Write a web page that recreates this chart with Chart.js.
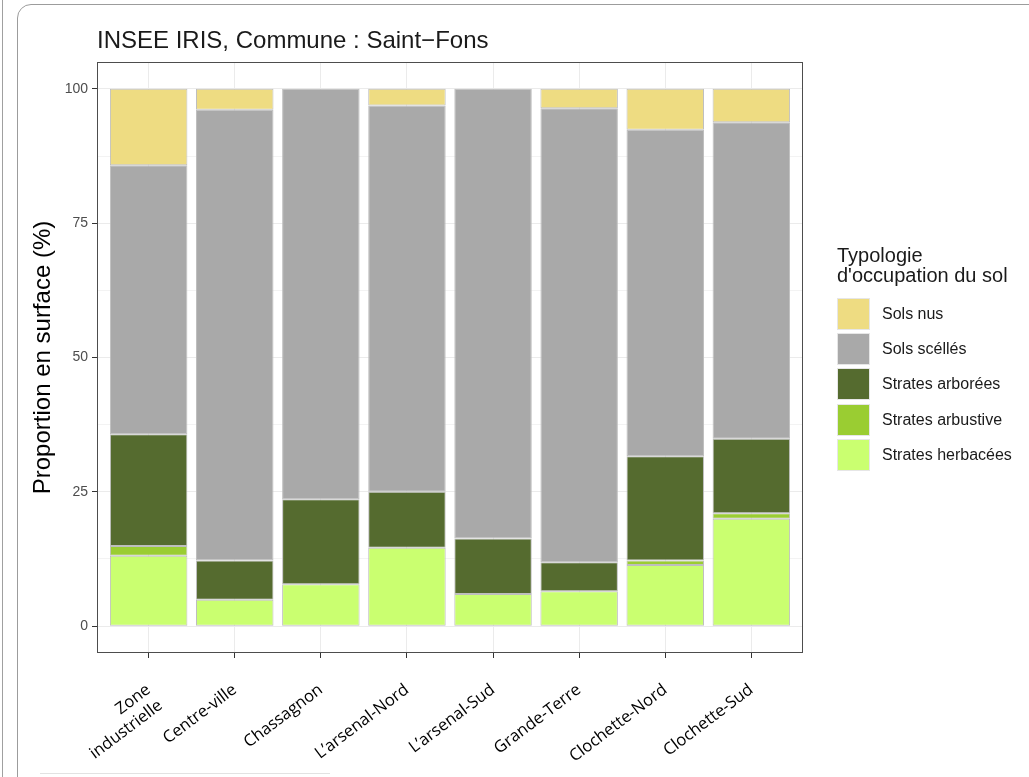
<!DOCTYPE html>
<html lang="fr">
<head>
<meta charset="utf-8">
<title>INSEE IRIS, Commune : Saint-Fons</title>
<script src="https://cdn.jsdelivr.net/npm/chart.js@4.4.1/dist/chart.umd.min.js"></script>
<style>
html, body { margin: 0; padding: 0; background: #fff; }
body { width: 1029px; height: 777px; position: relative; overflow: hidden; font-family: "Liberation Sans", Arial, sans-serif; }
#edge { position: absolute; left: 2px; top: 0; height: 777px; border-left: 1px solid #a0a0a0; }
#card { position: absolute; left: 17px; top: 4px; width: 1100px; height: 900px; border: 1px solid #9c9c9c; border-radius: 14px; }
#foot { position: absolute; left: 40px; top: 773px; width: 290px; border-top: 1px solid #e2e2e2; }
#title { position: absolute; left: 97px; top: 26px; font-size: 24px; line-height: 28px; color: #1a1a1a; white-space: nowrap; }
#chart { position: absolute; left: 0; top: 0; }
#legend { position: absolute; left: 837px; top: 245px; color: #1a1a1a; }
#legend .lt { font-size: 20px; line-height: 20px; margin-bottom: 11px; }
#legend .row { display: flex; align-items: center; height: 35.4px; }
#legend .key { width: 33px; height: 32px; border: 1px solid #e6e6e6; box-sizing: border-box; margin-right: 12px; }
#legend .lab { font-size: 16px; }
</style>
</head>
<body>
<div id="edge"></div>
<div id="card"></div>
<div id="foot"></div>
<canvas id="chart" width="1029" height="777"></canvas>
<div id="title">INSEE IRIS, Commune : Saint−Fons</div>
<div id="legend"></div>
<script>
// IRIS of Saint-Fons, left to right
var categories = [['Zone', 'industrielle'], 'Centre-ville', 'Chassagnon', 'L’arsenal-Nord',
    'L’arsenal-Sud', 'Grande-Terre', 'Clochette-Nord', 'Clochette-Sud'];

// share of surface (%) per land cover type
var herbacees = [13.1, 4.9, 7.8, 14.6, 6.0, 6.5, 11.4, 20.0];
var arbustive = [1.8, 0, 0, 0, 0, 0, 0.8, 1.0];
var arborees  = [20.8, 7.3, 15.8, 10.4, 10.3, 5.4, 19.4, 13.9];
var scelles   = [50.1, 83.9, 76.4, 71.9, 83.7, 84.5, 60.8, 58.9];
var nus       = [14.2, 3.9, 0, 3.1, 0, 3.6, 7.6, 6.2];

var yTicks = [0, 25, 50, 75, 100];
var yMinor = [12.5, 37.5, 62.5, 87.5];

var series = [
    { label: 'Strates herbacées', values: herbacees, color: '#CAFF70' },
    { label: 'Strates arbustive', values: arbustive, color: '#9ACD32' },
    { label: 'Strates arborées', values: arborees, color: '#556B2F' },
    { label: 'Sols scéllés', values: scelles, color: '#A9A9A9' },
    { label: 'Sols nus', values: nus, color: '#EEDC82' }
];

function toPoints(values) {
    return values.map(function (v, i) { return { x: i + 1, y: v }; });
}

// ggplot style panel frame
var panelBorder = {
    id: 'panelBorder',
    afterDatasetsDraw: function (chart) {
        var a = chart.chartArea, ctx = chart.ctx;
        ctx.save();
        ctx.strokeStyle = '#4d4d4d';
        ctx.lineWidth = 1;
        ctx.strokeRect(Math.round(a.left) + 0.5, Math.round(a.top) + 0.5,
            Math.round(a.right - a.left) - 1, Math.round(a.bottom - a.top) - 1);
        ctx.restore();
    }
};

var ctx = document.getElementById('chart').getContext('2d');
var chart = new Chart(ctx, {
    type: 'bar',
    data: {
        datasets: series.map(function (s) {
            return {
                label: s.label,
                data: toPoints(s.values),
                backgroundColor: s.color,
                borderColor: '#BEBEBE',
                borderWidth: function (c) { return c.raw && c.raw.y > 0 ? 1 : 0; },
                borderSkipped: false,
                barPercentage: 0.9,
                categoryPercentage: 1
            };
        })
    },
    options: {
        responsive: false,
        animation: false,
        layout: { padding: { left: 29, top: 62, right: 226, bottom: 10 } },
        plugins: {
            legend: { display: false },
            tooltip: { enabled: false }
        },
        scales: {
            x: {
                type: 'linear',
                stacked: true,
                min: 0.4,
                max: 8.6,
                offset: false,
                afterBuildTicks: function (s) {
                    s.ticks = categories.map(function (c, i) { return { value: i + 1 }; });
                },
                afterFit: function (s) { s.height = 114; },
                grid: { offset: false, color: '#EBEBEB', tickColor: '#333', tickLength: 5 },
                border: { display: false },
                ticks: {
                    autoSkip: false,
                    minRotation: 37,
                    maxRotation: 37,
                    padding: 22,
                    color: '#000',
                    font: { family: 'Open Sans', size: 16.5 },
                    callback: function (v) { return categories[v - 1]; }
                }
            },
            y: {
                stacked: true,
                min: -5,
                max: 105,
                afterBuildTicks: function (s) {
                    s.ticks = yTicks.concat(yMinor).sort(function (a, b) { return a - b; })
                        .map(function (v) { return { value: v }; });
                },
                afterFit: function (s) { s.width = 68; },
                grid: {
                    color: function (c) { return yTicks.indexOf(c.tick.value) >= 0 ? '#EBEBEB' : '#F3F3F3'; },
                    tickColor: function (c) { return yTicks.indexOf(c.tick.value) >= 0 ? '#333' : 'rgba(0,0,0,0)'; },
                    tickLength: 5
                },
                border: { display: false },
                ticks: {
                    color: '#4D4D4D',
                    padding: 4,
                    font: { family: 'Liberation Sans', size: 14 },
                    callback: function (v) { return yTicks.indexOf(v) >= 0 ? v : ''; }
                },
                title: {
                    display: true,
                    text: 'Proportion en surface (%)',
                    color: '#000',
                    padding: { top: 0, bottom: 0 },
                    font: { family: 'Liberation Sans', size: 24 }
                }
            }
        }
    },
    plugins: [panelBorder]
});

// legend like ggplot: top of the stack first
var legend = document.getElementById('legend');
var html = '<div class="lt">Typologie<br>d\'occupation du sol</div>';
chart.data.datasets.slice().reverse().forEach(function (d) {
    html += '<div class="row"><div class="key" style="background:' + d.backgroundColor +
        '"></div><div class="lab">' + d.label + '</div></div>';
});
legend.innerHTML = html;
</script>
</body>
</html>
